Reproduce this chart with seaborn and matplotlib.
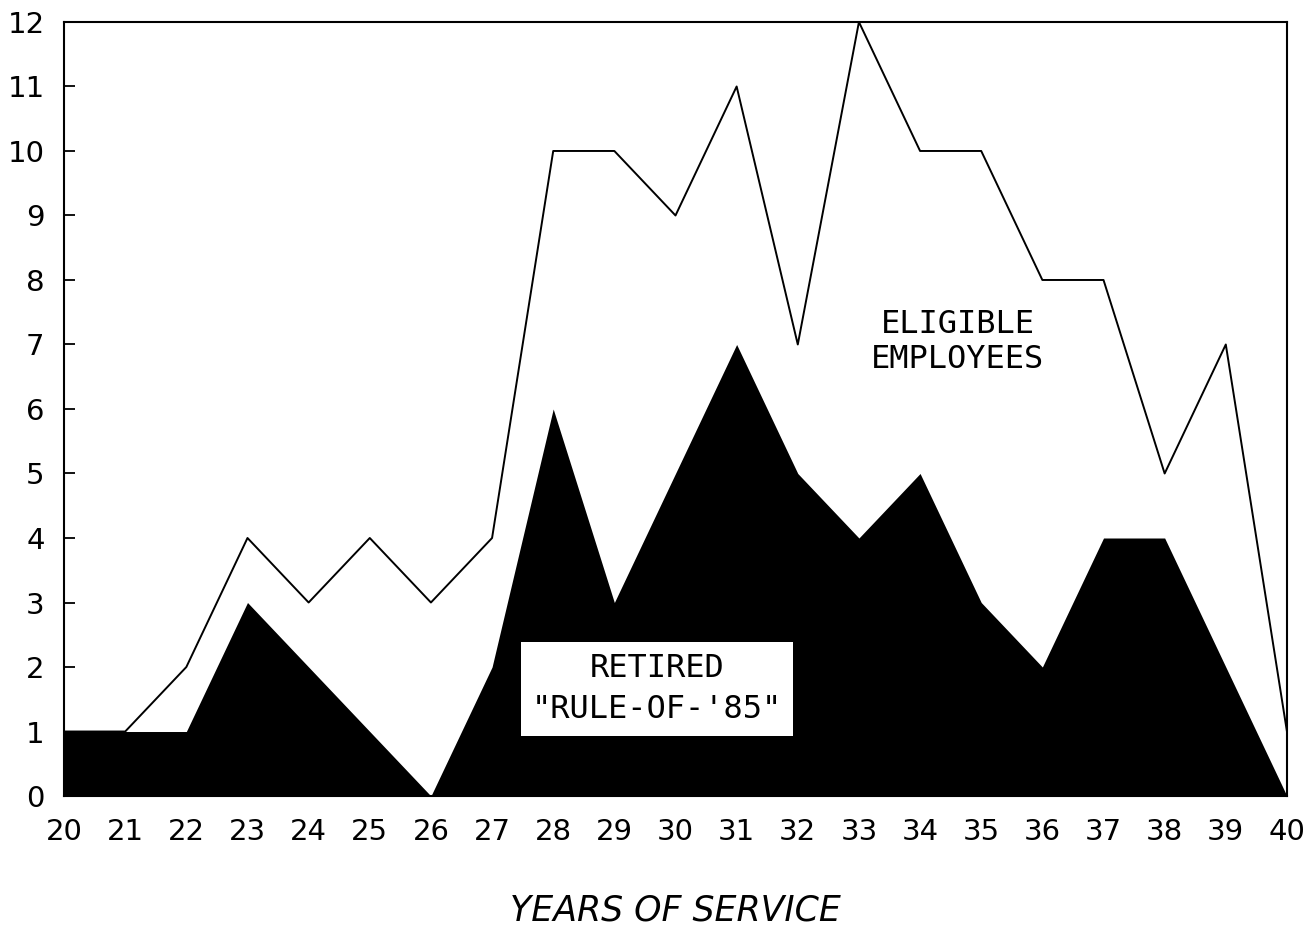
import numpy as np
import pandas as pd
import seaborn as sns
import matplotlib.pyplot as plt

years = list(range(20, 41))
eligible = [1, 1, 2, 4, 3, 4, 3, 4, 10, 10, 9, 11, 7, 12, 10, 10, 8, 8, 5, 7, 1]
retired = [1, 1, 1, 3, 2, 1, 0, 2, 6, 3, 5, 7, 5, 4, 5, 3, 2, 4, 4, 2, 0]

df = pd.DataFrame({'years': years, 'eligible': eligible, 'retired': retired})

sns.set_style('ticks')
plt.rcParams['font.family'] = ['DejaVu Sans']
plt.rcParams['text.color'] = 'black'
plt.rcParams['xtick.color'] = 'black'
plt.rcParams['ytick.color'] = 'black'
plt.rcParams['axes.labelcolor'] = 'black'

fig = plt.figure(figsize=(13.1, 9.27), dpi=100)
ax = fig.add_axes([0.0489, 0.1413, 0.9335, 0.835])

# eligible employees line
sns.lineplot(data=df, x='years', y='eligible', color='black', lw=1.4, ax=ax)
# retired filled area
ax.fill_between(df['years'], 0, df['retired'], color='black', lw=0, zorder=3)

ax.set_xlim(20, 40)
ax.set_ylim(0, 12)
ax.set_xticks(years)
ax.set_yticks(range(0, 13))
ax.tick_params(axis='y', direction='in', length=8, width=1.3, labelsize=21, pad=14)
ax.tick_params(axis='x', length=0, labelsize=21, pad=16)
for s in ax.spines.values():
    s.set_linewidth(1.5)
    s.set_color('black')
    s.set_zorder(5)

ax.set_xlabel('YEARS OF SERVICE', fontsize=25, style='italic', labelpad=34)
ax.set_ylabel('')

ax.text(34.62, 7.04, 'ELIGIBLE\nEMPLOYEES', family='DejaVu Sans Mono', fontsize=23,
        ha='center', va='center', linespacing=1.15, zorder=6)
ax.text(29.7, 1.66, 'RETIRED\n"RULE-OF-\'85"', family='DejaVu Sans Mono', fontsize=23,
        ha='center', va='center', linespacing=1.4, zorder=6,
        bbox=dict(boxstyle='square,pad=0.35', fc='white', ec='none'))

fig.savefig('out.png', dpi=100)
